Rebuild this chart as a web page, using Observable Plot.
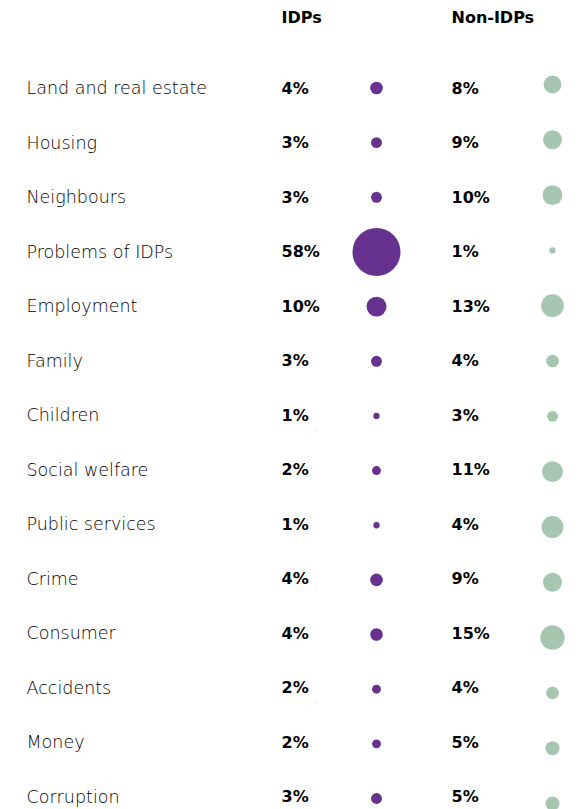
<!DOCTYPE html>
<html>
<head>
<meta charset="utf-8">
<script src="https://cdn.jsdelivr.net/npm/d3@7"></script>
<script src="https://cdn.jsdelivr.net/npm/@observablehq/plot@0.6"></script>
<style>
  html, body { margin: 0; padding: 0; background: #fff; }
  #chart { position: relative; width: 586px; height: 809px; overflow: hidden; }
  #chart svg { position: absolute; top: 0; left: 0; }
</style>
</head>
<body>
<div id="chart"></div>
<script>
const categories = ["Land and real estate", "Housing", "Neighbours", "Problems of IDPs", "Employment", "Family", "Children", "Social welfare", "Public services", "Crime", "Consumer", "Accidents", "Money", "Corruption"];
const idpValues = [4, 3, 3, 58, 10, 3, 1, 2, 1, 4, 4, 2, 2, 3];
const nonIdpValues = [8, 9, 10, 1, 13, 4, 3, 11, 4, 9, 15, 4, 5, 5];
// circle sizes as drawn in the reference (Public services circle is drawn larger than its label)
const nonIdpCircle = [8, 9, 10, 1, 13, 4, 3, 11, 12, 9, 15, 4, 5, 5];
const headers = ["IDPs", "Non-IDPs"];

const rows = categories.map((c, i) => ({
  category: c, idp: idpValues[i], non: nonIdpValues[i], nonCircle: nonIdpCircle[i]
}));

const W = 586, H = 809;
const colX = {label: 26, idpPct: 281, idpDot: 376, nonPct: 451, nonDot: 552};
const rScale = {type: "sqrt", domain: [0, 58], range: [0, 24]};
const purple = "#67318f";
const green = "#a7c6af";
const font = "'DejaVu Sans', sans-serif";
const labelStyle = {fontSize: 17.5, fontWeight: 300, fill: "#000", letterSpacing: "1.5px"};
const pctStyle = {fontSize: 16, fontWeight: "bold", fill: "#000", letterSpacing: "2.6px"};
const headStyle = {fontSize: 16, fontWeight: "bold", fill: "#000", letterSpacing: "0.8px"};

const main = Plot.plot({
  width: W, height: H,
  margin: 0,
  style: {fontFamily: font, background: "transparent"},
  y: {type: "point", domain: categories, range: [88, 796.5], padding: 0, round: false, axis: null},
  marks: [
    Plot.text([headers[0]], {frameAnchor: "top-left", dx: colX.idpPct, dy: 11, text: d => d, textAnchor: "start", lineAnchor: "top", ...headStyle}),
    Plot.text([headers[1]], {frameAnchor: "top-left", dx: colX.nonPct, dy: 11, text: d => d, textAnchor: "start", lineAnchor: "top", ...headStyle}),
    Plot.text(rows, {frameAnchor: "left", dx: colX.label, y: "category", text: "category", textAnchor: "start", ...labelStyle}),
    Plot.text(rows, {frameAnchor: "left", dx: colX.idpPct, y: "category", text: d => d.idp + "%", textAnchor: "start", ...pctStyle}),
    Plot.text(rows, {frameAnchor: "left", dx: colX.nonPct, y: "category", text: d => d.non + "%", textAnchor: "start", ...pctStyle})
  ]
});

const dots = Plot.plot({
  width: W, height: H,
  margin: 0,
  style: {background: "transparent"},
  y: {type: "point", domain: categories, range: [87.5, 798], padding: 0, round: false, axis: null},
  r: rScale,
  marks: [
    Plot.dot(rows, {frameAnchor: "left", dx: colX.idpDot, y: "category", r: "idp", fill: purple})
  ]
});

// Non-IDP circles sit on a slightly wider vertical spread in the reference
const overlay = Plot.plot({
  width: W, height: H,
  margin: 0,
  style: {background: "transparent"},
  y: {type: "point", domain: categories, range: [84, 803], padding: 0, round: false, axis: null},
  r: rScale,
  marks: [
    Plot.dot(rows, {frameAnchor: "left", dx: colX.nonDot, y: "category", r: "nonCircle", fill: green})
  ]
});

document.getElementById("chart").append(main, dots, overlay);
</script>
</body>
</html>
